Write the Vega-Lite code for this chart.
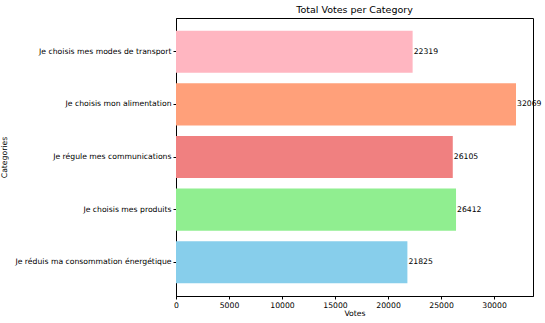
{
  "$schema": "https://vega.github.io/schema/vega-lite/v6.json",
  "width": 357,
  "height": 278,
  "autosize": {"type": "none"},
  "padding": {"left": 176, "top": 18, "right": 12, "bottom": 27},
  "background": "white",
  "title": {"text": "Total Votes per Category", "fontSize": 9.5, "fontWeight": "normal", "font": "DejaVu Sans", "color": "black", "offset": 4},
  "config": {
    "view": {"stroke": "black", "strokeWidth": 1},
    "font": "DejaVu Sans",
    "axis": {"labelFont": "DejaVu Sans", "titleFont": "DejaVu Sans", "labelFontSize": 7.7, "titleFontSize": 7.7, "titleFontWeight": "normal", "labelColor": "black", "titleColor": "black", "domainColor": "black", "tickColor": "black", "grid": false, "tickSize": 3}
  },
  "data": {"values": [
    {"category": "Je choisis mes modes de transport", "votes": 22319, "color": "#FFB6C1"},
    {"category": "Je choisis mon alimentation", "votes": 32069, "color": "#FFA07A"},
    {"category": "Je régule mes communications", "votes": 26105, "color": "#F08080"},
    {"category": "Je choisis mes produits", "votes": 26412, "color": "#90EE90"},
    {"category": "Je réduis ma consommation énergétique", "votes": 21825, "color": "#87CEEB"}
  ]},
  "encoding": {
    "y": {"field": "category", "type": "nominal", "sort": null, "title": "Categories",
      "scale": {"paddingInner": 0.2, "paddingOuter": 0.24},
      "axis": {"titlePadding": 6, "labelPadding": 2}},
    "x": {"field": "votes", "type": "quantitative", "title": "Votes",
      "scale": {"domain": [0, 33672], "nice": false},
      "axis": {"values": [0, 5000, 10000, 15000, 20000, 25000, 30000], "format": "d", "labelFlush": false, "titlePadding": 1}}
  },
  "layer": [
    {"mark": {"type": "bar"}, "encoding": {"color": {"field": "color", "type": "nominal", "scale": null}}},
    {"mark": {"type": "text", "align": "left", "baseline": "middle", "dx": 1, "fontSize": 7.7, "color": "black"}, "encoding": {"text": {"field": "votes", "type": "quantitative", "format": "d"}}}
  ]
}
